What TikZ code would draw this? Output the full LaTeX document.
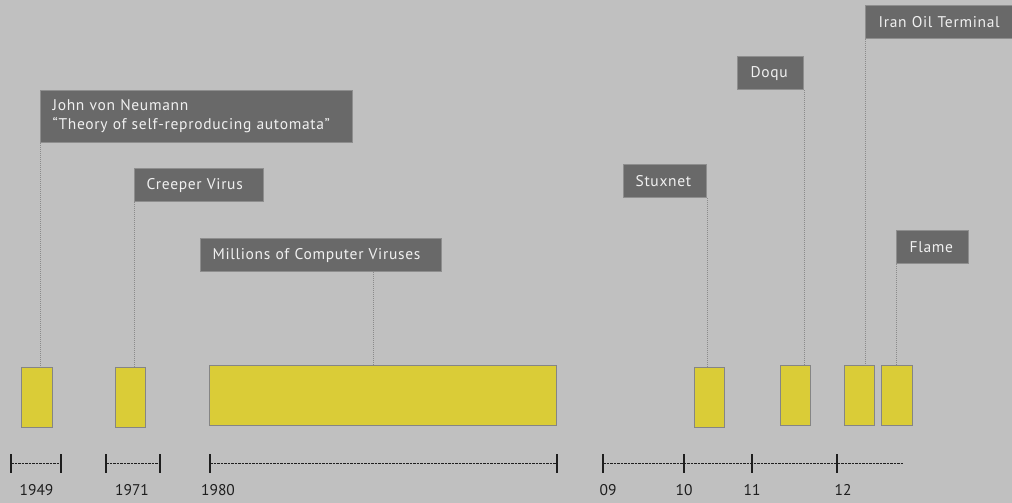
\documentclass[tikz,border=0pt]{standalone}
\usepackage{fontspec}
\setmainfont{PT Sans}
\newfontfamily\lblfont[LetterSpace=4.5]{PT Sans}
\definecolor{bgcol}{HTML}{C0C0C0}
\definecolor{lblfill}{HTML}{696969}
\definecolor{lbledge}{HTML}{8E8E8E}
\definecolor{lbltext}{HTML}{F0F0F0}
\definecolor{barfill}{HTML}{DACC37}
\definecolor{baredge}{HTML}{858585}
\definecolor{connline}{HTML}{8A8A8A}
\definecolor{axisline}{HTML}{1E1E1E}
\begin{document}
\begin{tikzpicture}[x=1pt,y=-1pt,
  lbl/.style={draw=lbledge, fill=lblfill, text=lbltext, line width=1.2pt,
    anchor=north west, inner xsep=12pt, inner ysep=0pt, align=left,
    font=\lblfont\fontsize{15.5}{19}\selectfont},
  bar/.style={draw=baredge, fill=barfill, line width=1.3pt, anchor=north west,
    inner sep=0pt, minimum width=30pt, minimum height=60pt},
  conn/.style={draw=connline, line width=0.9pt, dash pattern=on 1pt off 1pt},
  axis/.style={draw=axisline, line width=0.8pt, dash pattern=on 2.5pt off 1pt},
  tickline/.style={draw=axisline, line width=1.6pt},
  year/.style={text=axisline, inner sep=0pt, font=\fontsize{15.5}{19}\selectfont}]

% background and frame
\fill[bgcol] (0,0) rectangle (1012,503);
\useasboundingbox (0,0) rectangle (1012,503);
\clip (0,0) rectangle (1012,503);

% event labels
\node[lbl, text width=288pt, minimum height=52pt] (jvn) at (40,90)
  {\mbox{John von Neumann}\\\mbox{“Theory of self-reproducing automata”}};
\node[lbl, text width=105pt, minimum height=33pt] (creeper) at (134,168) {\mbox{Creeper Virus}};
\node[lbl, text width=217pt, minimum height=33pt] (mill) at (200,238) {\mbox{Millions of Computer Viruses}};
\node[lbl, text width=59pt, minimum height=33pt] (stux) at (623,164) {\mbox{Stuxnet}};
\node[lbl, text width=40pt, minimum height=33pt, inner xsep=13pt] (doqu) at (737,56) {\mbox{Doqu}};
\node[lbl, text width=128pt, minimum height=33pt, inner xsep=13pt] (iran) at (865,5) {\mbox{Iran Oil Terminal}};
\node[lbl, text width=46pt, minimum height=33pt, inner xsep=13pt] (flame) at (896,230) {\mbox{Flame}};

% event bars
\node[bar, minimum width=31pt] (b1) at (21,367) {};
\node[bar] (b2) at (115,367) {};
\node[bar, minimum width=347pt] (b3) at (209,365) {};
\node[bar] (b4) at (694,367) {};
\node[bar] (b5) at (780,365) {};
\node[bar] (b6) at (844,365) {};
\node[bar, minimum width=31pt] (b7) at (881,365) {};

% leader lines from labels to bars
\draw[conn] (jvn.south west) -- (jvn.south west |- b1.north);
\draw[conn] (creeper.south west) -- (creeper.south west |- b2.north);
\draw[conn] ([xshift=173pt]mill.south west) -- ([xshift=173pt]mill.south west |- b3.north);
\draw[conn] (stux.south east) -- (stux.south east |- b4.north);
\draw[conn] (doqu.south east) -- (doqu.south east |- b5.north);
\draw[conn] (iran.south west) -- (iran.south west |- b6.north);
\draw[conn] (flame.south west) -- (flame.south west |- b7.north);

% time axis
\coordinate (t1) at (11,463.5);
\coordinate (t2) at (61,463.5);
\coordinate (t3) at (106,463.5);
\coordinate (t4) at (160,463.5);
\coordinate (t5) at (210,463.5);
\coordinate (t6) at (557,463.5);
\coordinate (t7) at (603,463.5);
\coordinate (t8) at (684,463.5);
\coordinate (t9) at (752,463.5);
\coordinate (t10) at (837,463.5);
\coordinate (tend) at (903,463.5);

\draw[axis] (t1) -- (t2);
\draw[axis] (t3) -- (t4);
\draw[axis] (t5) -- (t6);
\draw[axis] (t7) -- (t8) -- (t9) -- (t10) -- (tend);

\foreach \t in {t1,t2,t3,t4,t5,t6,t7,t8,t9,t10}
  \draw[tickline] ([yshift=9.5pt]\t) -- ([yshift=-9.5pt]\t);

% year captions
\node[year] (y1949) at (36.5,490) {1949};
\node[year] (y1971) at (132,490) {1971};
\node[year] (y1980) at (218,490) {1980};
\node[year] (y09) at (608,490) {09};
\node[year] (y10) at (684,490) {10};
\node[year] (y11) at (752,490) {11};
\node[year] (y12) at (843,490) {12};
\end{tikzpicture}
\end{document}
